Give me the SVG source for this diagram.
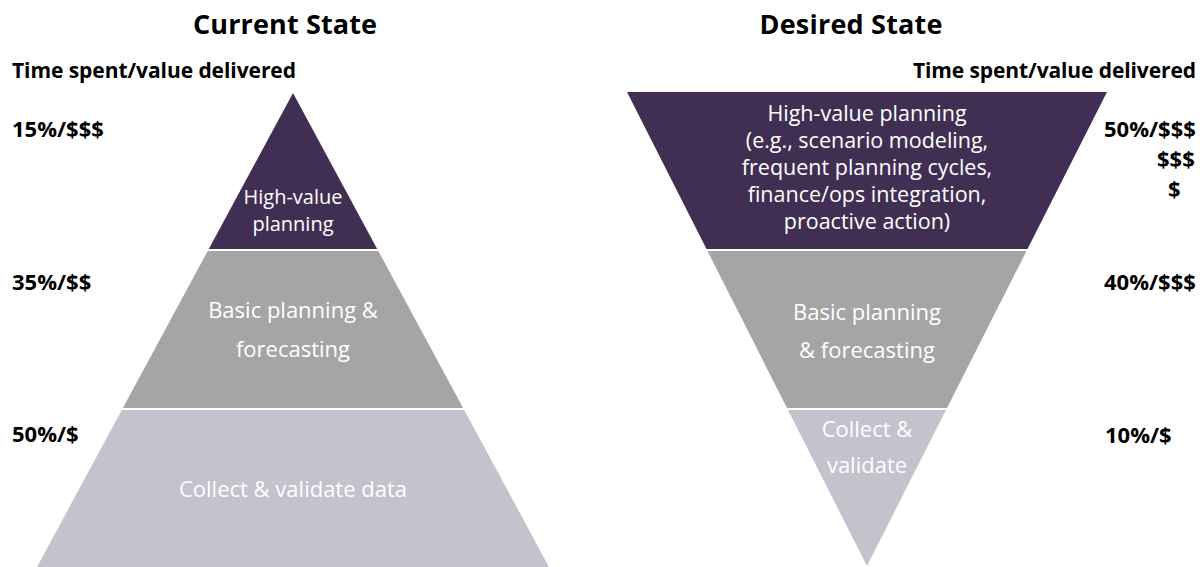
<svg xmlns="http://www.w3.org/2000/svg" width="1204" height="567" viewBox="0 0 1204 567">
  <style>
    text { font-family: "Open Sans", "Liberation Sans", Arial, sans-serif; }
    .title { font-size: 27px; font-weight: 700; fill: #000; text-anchor: middle; }
    .head { font-size: 21px; font-weight: 700; fill: #000; }
    .lbl { font-size: 22px; font-weight: 700; fill: #000; }
    .end { text-anchor: end; }
    .in { font-size: 22px; fill: #fff; text-anchor: middle; }
    .in-sm { font-size: 20px; }
    .in-md { font-size: 21.5px; }
    .dark { fill: #402F52; }
    .grey { fill: #A5A5A5; }
    .light { fill: #C4C2CC; }
  </style>

  <rect width="1204" height="567" fill="#fff"/>

  <!-- Headings -->
  <text class="title" x="285" y="34" textLength="184">Current State</text>
  <text class="title" x="851" y="34" textLength="183">Desired State</text>

  <!-- Left scale: time spent / value delivered -->
  <g id="current-scale">
    <text class="head" x="12" y="78" textLength="284">Time spent/value delivered</text>
    <text class="lbl" x="12" y="137">15%/$$$</text>
    <text class="lbl" x="12" y="290">35%/$$</text>
    <text class="lbl" x="12" y="442">50%/$</text>
  </g>

  <!-- Current state pyramid -->
  <g id="current-high-value">
    <polygon class="dark" points="293,93 377.2,249 208.8,249"/>
    <text class="in in-sm" x="293" y="204">High-value</text>
    <text class="in in-sm" x="293" y="231">planning</text>
  </g>
  <g id="current-basic">
    <polygon class="grey" points="207.7,251 378.3,251 463.1,408 122.9,408"/>
    <text class="in" x="293" y="318">Basic planning &amp;</text>
    <text class="in" x="293" y="357">forecasting</text>
  </g>
  <g id="current-collect">
    <polygon class="light" points="121.8,410 464.2,410 549,567 37,567"/>
    <text class="in" x="293" y="497">Collect &amp; validate data</text>
  </g>

  <!-- Right scale -->
  <g id="desired-scale">
    <text class="head end" x="1196" y="78" textLength="283">Time spent/value delivered</text>
    <text class="lbl" x="1104" y="137">50%/$$$</text>
    <text class="lbl" x="1157" y="167">$$$</text>
    <text class="lbl" x="1168" y="197">$</text>
    <text class="lbl" x="1104" y="290">40%/$$$</text>
    <text class="lbl" x="1105" y="443">10%/$</text>
  </g>

  <!-- Desired state funnel -->
  <g id="desired-high-value">
    <polygon class="dark" points="627,92 1107,92 1027.5,249 706.5,249"/>
    <text class="in in-md" x="867" y="121">High-value planning</text>
    <text class="in in-md" x="867" y="148">(e.g., scenario modeling,</text>
    <text class="in in-md" x="867" y="175">frequent planning cycles,</text>
    <text class="in in-md" x="867" y="202">finance/ops integration,</text>
    <text class="in in-md" x="867" y="229">proactive action)</text>
  </g>
  <g id="desired-basic">
    <polygon class="grey" points="707.5,251 1026.5,251 947,408 787,408"/>
    <text class="in" x="867" y="320">Basic planning</text>
    <text class="in" x="867" y="358">&amp; forecasting</text>
  </g>
  <g id="desired-collect">
    <polygon class="light" points="788,410 946,410 867,566"/>
    <text class="in" x="867" y="437">Collect &amp;</text>
    <text class="in" x="867" y="473">validate</text>
  </g>

  <g id="connectors"/>
</svg>
